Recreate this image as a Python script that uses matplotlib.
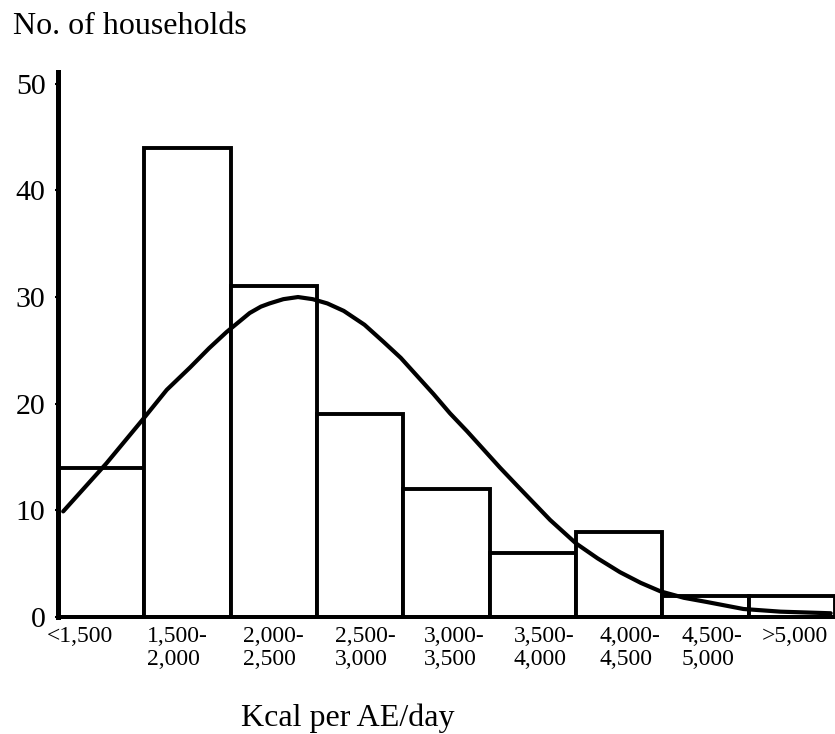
import matplotlib
matplotlib.use("Agg")
import matplotlib.pyplot as plt
import matplotlib.transforms as mtransforms

plt.rcParams['font.family'] = ['Liberation Serif', 'DejaVu Serif']

categories = ["<1,500", "1,500-\n2,000", "2,000-\n2,500", "2,500-\n3,000", "3,000-\n3,500",
              "3,500-\n4,000", "4,000-\n4,500", "4,500-\n5,000", ">5,000"]
households = [14, 44, 31, 19, 12, 6, 8, 2, 2]

# fitted curve (x in class-interval units from the left axis)
curve_x = [0.06, 0.56, 0.99, 1.26, 1.53, 1.75, 1.95, 2.10, 2.22, 2.35, 2.45, 2.61, 2.78,
           2.95, 3.12, 3.31, 3.55, 3.77, 3.97, 4.16, 4.35, 4.54, 4.74, 4.93, 5.12, 5.32,
           5.51, 5.70, 6.00, 6.25, 6.51, 6.75, 6.98, 7.25, 7.52, 7.94, 8.37, 8.95]
curve_y = [9.9, 14.4, 18.6, 21.3, 23.4, 25.2, 26.7, 27.7, 28.5, 29.1, 29.4, 29.8, 30.0,
           29.8, 29.4, 28.7, 27.4, 25.8, 24.3, 22.6, 20.9, 19.1, 17.4, 15.7, 14.0, 12.3,
           10.7, 9.1, 6.9, 5.5, 4.2, 3.2, 2.4, 1.8, 1.4, 0.75, 0.5, 0.35]

yticks = [0, 10, 20, 30, 40, 50]

W, H = 835, 734
fig = plt.figure(figsize=(W / 100, H / 100), dpi=100)
ax = fig.add_axes([58 / W, (H - 617) / H, 777 / W, (617 - 72) / H])

positions = [i for i in range(len(households))]
ax.bar(positions, households, width=1.0, align='edge', facecolor='white',
       edgecolor='black', linewidth=2.8, zorder=2, clip_on=False)
ax.plot(curve_x, curve_y, color='black', linewidth=3.0, zorder=3,
        solid_capstyle='round', solid_joinstyle='round')

ax.set_xlim(0, 9.0)
ax.set_ylim(0, 51.1)

for s in ['top', 'right']:
    ax.spines[s].set_visible(False)
ax.spines['left'].set_linewidth(3.6)
ax.spines['bottom'].set_linewidth(2.8)
ax.spines['left'].set_zorder(4)

ax.set_yticks(yticks)
ax.set_yticklabels([str(v) for v in yticks], fontsize=21.5)
ax.tick_params(axis='y', length=2, width=1.5, pad=7)
ax.set_xticks([])

# x category labels (two-line, left aligned blocks)
label_dx = [-0.24, -0.12, 0.0, 0.06, 0.09, 0.13, 0.12, 0.07, 0.03]
trans = mtransforms.blended_transform_factory(ax.transData, fig.transFigure)
for i, lab in enumerate(categories):
    ax.text(i + 0.5 + label_dx[i], 1 - 626 / H, lab, transform=trans,
            ha='center', va='top', multialignment='left', fontsize=17,
            linespacing=1.15)

fig.text(13 / W, 1 - 26 / H, "No. of households", ha='left', va='center', fontsize=23)
fig.text(348 / W, 1 - 726 / H, "Kcal per AE/day", ha='center', va='baseline', fontsize=23)

fig.savefig("out.png", dpi=100, facecolor='white')
